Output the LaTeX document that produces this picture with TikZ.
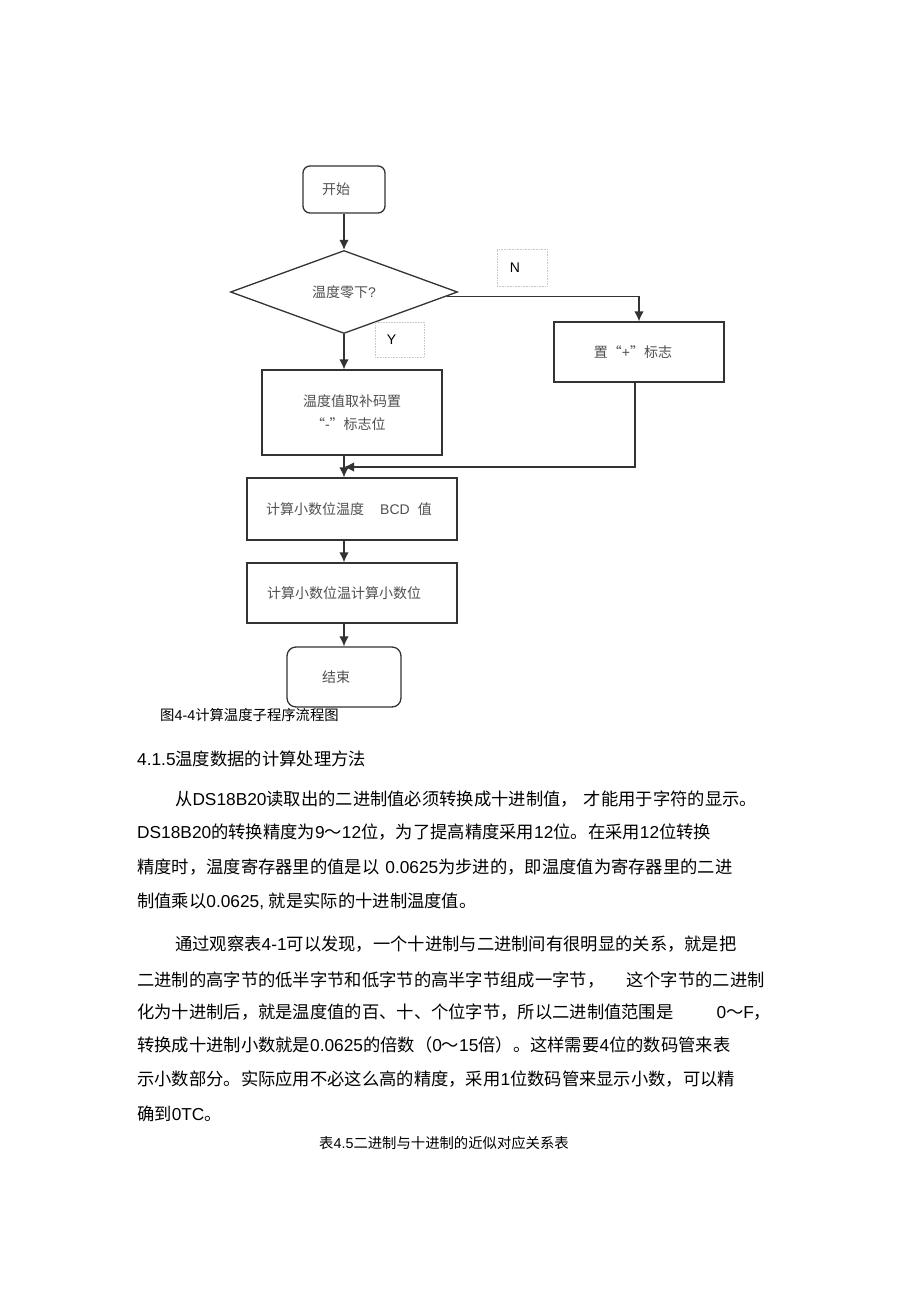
\documentclass[tikz,border=0pt]{standalone}
\usepackage{fontspec}
\setmainfont{Liberation Sans}
\newfontfamily\latf{Liberation Sans}
\newfontfamily\cjkf{Noto Sans CJK SC}
\usetikzlibrary{shapes.geometric,arrows.meta,calc}
% automatic font switch between Latin and CJK runs
\XeTeXinterchartokenstate=1
\newXeTeXintercharclass\CJKcls
\newcount\cjkcc
\def\setcjkrange#1#2{\cjkcc=#1 \loop\XeTeXcharclass\cjkcc=\CJKcls\ifnum\cjkcc<#2 \advance\cjkcc by 1 \repeat}
\setcjkrange{"3000}{"303F}
\setcjkrange{"4E00}{"9FFF}
\setcjkrange{"FF00}{"FFEF}
\setcjkrange{"201C}{"201D}
\XeTeXinterchartoks 0 \CJKcls = {\cjkf}
\XeTeXinterchartoks 4095 \CJKcls = {\cjkf}
\XeTeXinterchartoks \CJKcls 0 = {\latf}
\XeTeXinterchartoks \CJKcls 4095 = {\latf}
\definecolor{fctext}{HTML}{505050}
\definecolor{fcline}{HTML}{333333}
\definecolor{tagline}{HTML}{C8C8C8}
\begin{document}
\begin{tikzpicture}[x=1pt,y=-1pt,
  fcbox/.style={draw=fcline,line width=1.3pt,rectangle,inner sep=0pt,text=fctext,font=\fontsize{14}{20}\selectfont},
  fcround/.style={fcbox,rounded corners=7pt},
  fcdia/.style={draw=fcline,line width=1.3pt,diamond,inner sep=0pt,aspect=2.73,text=fctext,font=\fontsize{14}{20}\selectfont},
  tagbox/.style={draw=tagline,densely dotted,line width=0.6pt,inner sep=0pt,font=\fontsize{14}{16}\selectfont},
  arr/.style={draw=fcline,line width=1.4pt,-{Latex[length=10pt,width=9.5pt]}},
  body/.style={anchor=west,inner sep=0pt,font=\fontsize{17.3}{20}\selectfont,text height=0.88em,text depth=0.12em},
  capt/.style={anchor=west,inner sep=0pt,font=\fontsize{14.35}{18}\selectfont,text height=0.88em,text depth=0.12em}
]
\useasboundingbox (0,0) rectangle (920,1303);
\fill[white] (0,0) rectangle (920,1303);

% flowchart
\node[fcround,minimum width=82pt,minimum height=47pt] (start) at (344,189.5) {\hspace*{-16pt}开始};
\node[fcdia,minimum width=227pt,minimum height=83pt] (dec) at (344,292) {温度零下?};
\node[tagbox,minimum width=50pt,minimum height=37pt] (ntag) at (522,267.5) {\hspace*{-14pt}N};
\node[tagbox,minimum width=49pt,minimum height=35pt] (ytag) at (399.5,339.5) {\hspace*{-16pt}Y};
\node[fcbox,minimum width=170pt,minimum height=60pt] (plus) at (639,352) {\hspace*{-12pt}置“+”标志};
\node[fcbox,minimum width=180pt,minimum height=85pt,align=left] (neg) at (352,412.5) {温度值取补码置\\[3pt]\hspace*{8pt}“-”标志位};
\node[fcbox,minimum width=210pt,minimum height=62pt] (bcd) at (352,509) {\hspace*{-6pt}计算小数位温度\hspace{16pt}BCD\hspace{8pt}值};
\node[fcbox,minimum width=210pt,minimum height=60pt] (frac) at (352,593) {\hspace*{-16pt}计算小数位温计算小数位};
\node[fcround,minimum width=114pt,minimum height=60pt,rounded corners=9pt] (end) at (344,677) {\hspace*{-16pt}结束};
\coordinate (join) at (344,467);

\draw[arr] (start) -- (dec);
\draw[arr] ($(dec.east)!0.1!(dec.south)$) -| (plus.north);
\draw[arr] (dec.south) -- (neg.north -| dec.south);
\draw[arr] (neg.south -| dec.south) -- (bcd.north -| dec.south);
\draw[arr] (plus.south -| 635,0) |- (join);
\draw[arr] (bcd.south -| dec.south) -- (frac.north -| dec.south);
\draw[arr] (frac.south -| dec.south) -- (end.north);

\node[capt] (cap1) at (160,717) {图4-4计算温度子程序流程图};

% text
\node[body] (h) at (137,762) {4.1.5温度数据的计算处理方法};
\node[body] (p1) at (175,802) {从DS18B20读取出的二进制值必须转换成十进制值，\hspace{6pt}才能用于字符的显示。};
\node[body] (p2) at (137,835) {DS18B20的转换精度为9～12位，为了提高精度采用12位。在采用12位转换};
\node[body] (p3) at (137,870) {精度时，温度寄存器里的值是以\hspace{6pt}0.0625为步进的，即温度值为寄存器里的二进};
\node[body] (p4) at (137,904) {制值乘以0.0625, 就是实际的十进制温度值。};
\node[body] (q1) at (175,947) {通过观察表4-1可以发现，一个十进制与二进制间有很明显的关系，就是把};
\node[body] (q2) at (137,983) {二进制的高字节的低半字节和低字节的高半字节组成一字节，\hspace{22pt}这个字节的二进制};
\node[body] (q3) at (137,1015) {化为十进制后，就是温度值的百、十、个位字节，所以二进制值范围是\hspace{43pt}0～F，};
\node[body] (q4) at (137,1048) {转换成十进制小数就是0.0625的倍数（0～15倍）。这样需要4位的数码管来表};
\node[body] (q5) at (137,1082) {示小数部分。实际应用不必这么高的精度，采用1位数码管来显示小数，可以精};
\node[body] (q6) at (137,1117) {确到0TC。};
\node[capt] (cap2) at (319,1145) {表4.5二进制与十进制的近似对应关系表};
\end{tikzpicture}
\end{document}
